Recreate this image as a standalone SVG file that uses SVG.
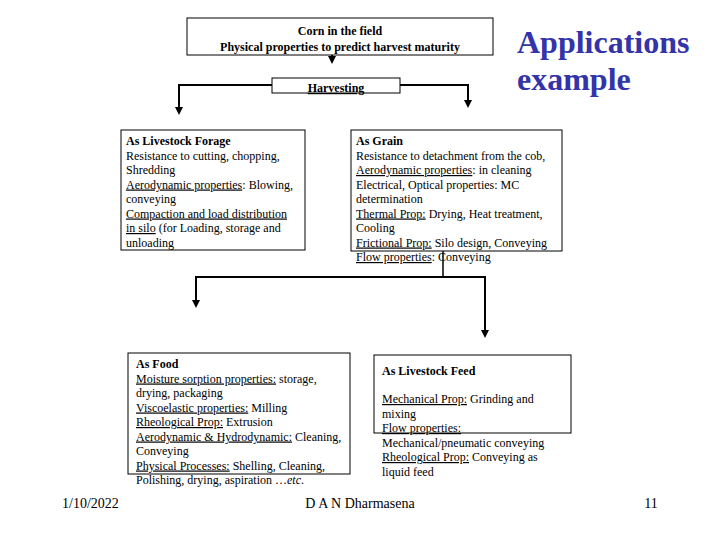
<svg xmlns="http://www.w3.org/2000/svg" width="720" height="540" viewBox="0 0 720 540">
<style>
.box{fill:#fff;stroke:#000;stroke-width:1}
.t{font-family:"Liberation Serif","Times New Roman",serif;font-size:12px;fill:#000}
.b{font-weight:bold}
.u{text-decoration:underline}
.con{fill:none;stroke:#000;stroke-width:2}
.ft{font-family:"Liberation Serif","Times New Roman",serif;font-size:14px;fill:#000}
.title{font-family:"Liberation Serif","Times New Roman",serif;font-size:32px;font-weight:bold;fill:#3333aa}
</style>
<defs>
<marker id="ah" markerWidth="8" markerHeight="8" refX="4" refY="7" orient="auto-start-reverse" markerUnits="userSpaceOnUse" viewBox="0 0 8 8">
<path d="M0,0 L8,0 L4,8 Z" fill="#000" transform="rotate(0)"/>
</marker>
</defs>
<rect width="720" height="540" fill="#fff"/>

<g id="connectors">
<path class="con" d="M332,55 V56"/>
<path d="M328,56 L336,56 L332,64 Z" fill="#000"/>
<path class="con" d="M272,85 H179 V108"/>
<path d="M175,107 L183,107 L179,115 Z" fill="#000"/>
<path class="con" d="M400,85 H468 V101"/>
<path d="M464,100 L472,100 L468,108 Z" fill="#000"/>
<path class="con" d="M443,251 V277" style="stroke-width:1.5"/>
<path class="con" d="M443,277 H196 V301"/>
<path d="M192,300 L200,300 L196,308 Z" fill="#000"/>
<path class="con" d="M443,277 H485 V331"/>
<path d="M481,330 L489,330 L485,338 Z" fill="#000"/>
</g>

<g id="corn">
<rect class="box" x="187" y="18" width="306" height="37"/>
<text class="t b" x="340" y="35" text-anchor="middle">Corn in the field</text>
<text class="t b" x="340" y="51" text-anchor="middle">Physical properties to predict harvest maturity</text>
</g>

<g id="harvesting">
<rect class="box" x="272" y="78" width="128" height="15"/>
<text class="t b u" x="336" y="92" text-anchor="middle">Harvesting</text>
</g>

<g id="title">
<text class="title" x="517" y="53">Applications</text>
<text class="title" x="517" y="90">example</text>
</g>

<g id="forage">
<rect class="box" x="121" y="130" width="184" height="120"/>
<text class="t" x="126">
<tspan class="b" x="126" y="145">As Livestock Forage</tspan>
<tspan x="126" y="159.5">Resistance to cutting, chopping,</tspan>
<tspan x="126" y="174">Shredding</tspan>
<tspan x="126" y="188.5"><tspan class="u">Aerodynamic properties</tspan>: Blowing,</tspan>
<tspan x="126" y="203">conveying</tspan>
<tspan x="126" y="217.5" class="u">Compaction and load distribution</tspan>
<tspan x="126" y="232"><tspan class="u">in silo</tspan> (for Loading, storage and</tspan>
<tspan x="126" y="246.5">unloading</tspan>
</text>
</g>

<g id="grain">
<rect class="box" x="351" y="130" width="211" height="121"/>
<text class="t">
<tspan class="b" x="356" y="145">As Grain</tspan>
<tspan x="356" y="159.5">Resistance to detachment from the cob,</tspan>
<tspan x="356" y="174"><tspan class="u">Aerodynamic properties</tspan>: in cleaning</tspan>
<tspan x="356" y="188.5">Electrical, Optical properties: MC</tspan>
<tspan x="356" y="203">determination</tspan>
<tspan x="356" y="217.5"><tspan class="u">Thermal Prop:</tspan> Drying, Heat treatment,</tspan>
<tspan x="356" y="232">Cooling</tspan>
<tspan x="356" y="246.5"><tspan class="u">Frictional Prop:</tspan> Silo design, Conveying</tspan>
<tspan x="356" y="261"><tspan class="u">Flow properties</tspan>: Conveying</tspan>
</text>
</g>

<g id="food">
<rect class="box" x="128" y="353" width="222" height="121"/>
<text class="t">
<tspan class="b" x="136" y="368">As Food</tspan>
<tspan x="136" y="382.5"><tspan class="u">Moisture sorption properties:</tspan> storage,</tspan>
<tspan x="136" y="397">drying, packaging</tspan>
<tspan x="136" y="411.5"><tspan class="u">Viscoelastic properties:</tspan> Milling</tspan>
<tspan x="136" y="426"><tspan class="u">Rheological Prop:</tspan> Extrusion</tspan>
<tspan x="136" y="440.5"><tspan class="u">Aerodynamic &amp; Hydrodynamic:</tspan> Cleaning,</tspan>
<tspan x="136" y="455">Conveying</tspan>
<tspan x="136" y="469.5"><tspan class="u">Physical Processes:</tspan> Shelling, Cleaning,</tspan>
<tspan x="136" y="484">Polishing, drying, aspiration …<tspan font-style="italic">etc</tspan>.</tspan>
</text>
</g>

<g id="feed">
<rect class="box" x="374" y="355" width="197" height="78"/>
<text class="t">
<tspan class="b" x="382" y="375">As Livestock Feed</tspan>
<tspan x="382" y="403"><tspan class="u">Mechanical Prop:</tspan> Grinding and</tspan>
<tspan x="382" y="417.5">mixing</tspan>
<tspan x="382" y="432" class="u">Flow properties:</tspan>
<tspan x="382" y="446.5">Mechanical/pneumatic conveying</tspan>
<tspan x="382" y="461"><tspan class="u">Rheological Prop:</tspan> Conveying as</tspan>
<tspan x="382" y="475.5">liquid feed</tspan>
</text>
</g>

<g id="footer">
<text class="ft" x="62" y="508">1/10/2022</text>
<text class="ft" x="360" y="508" text-anchor="middle">D A N Dharmasena</text>
<text class="ft" x="651" y="508" text-anchor="middle">11</text>
</g>
</svg>
